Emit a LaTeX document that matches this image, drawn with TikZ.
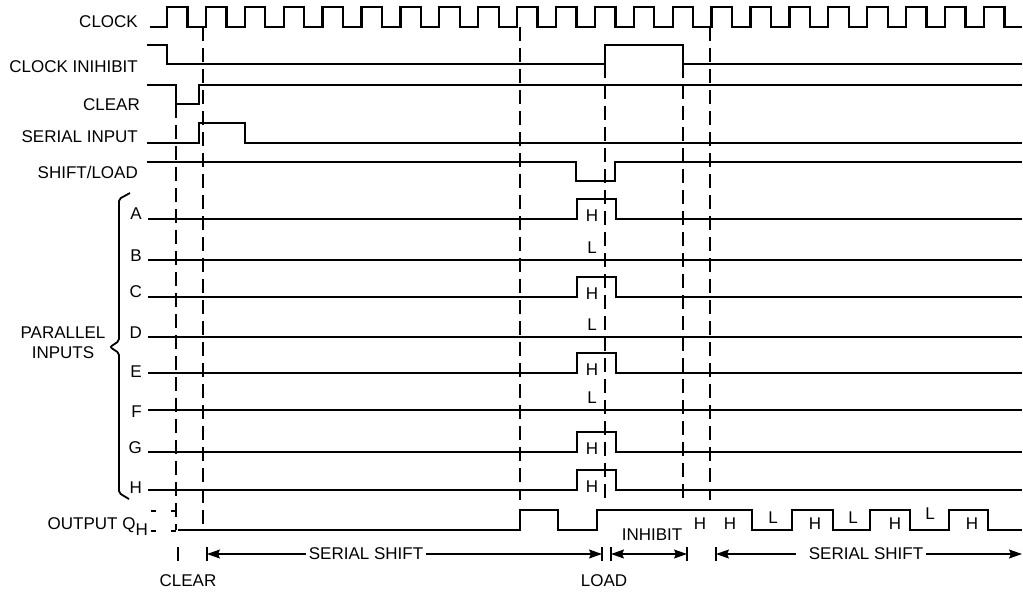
\documentclass[tikz,border=0pt]{standalone}
\usepackage{fontspec}
\setmainfont{Liberation Sans}
\usetikzlibrary{arrows.meta,positioning,calc}
\tikzstyle{signal} = [line width=2.3pt, line join=miter]
\tikzset{span/.style = {
    line width=1.1pt,
    -{Stealth[length=13pt, width=9pt, inset=2pt]},
  },
  twoway/.style = {
    line width=1.1pt,
    {Stealth[length=13pt, width=9pt, inset=2pt]}-{Stealth[length=13pt, width=9pt, inset=2pt]},
  }
}

\begin{document}
\begin{tikzpicture}[x=1pt, y=-1pt, font=\fontsize{17}{20}\selectfont]
  \useasboundingbox (0,0) rectangle (1023,592);
  % styles
  \tikzstyle{signame} = [anchor=base east, inner sep=0pt]
  \tikzstyle{hl} = [anchor=base, inner sep=0pt]
  \tikzstyle{guide} = [line width=1.1pt, dash pattern=on 14pt off 7pt]
  \tikzstyle{tick} = [line width=1.1pt]

  % signal names
  \node[signame] (lclock)   at (138,27)  {CLOCK};
  \node[signame] (linhibit) at (138,72)  {CLOCK INIHIBIT};
  \node[signame] (lclear)   at (140,110) {CLEAR};
  \node[signame] (lserial)  at (138,142) {SERIAL INPUT};
  \node[signame] (lshift)   at (138,178) {SHIFT/LOAD};
  \node[signame] (lout)     at (148,529) {OUTPUT Q\raisebox{-6pt}{H}};
  \node[align=center, inner sep=0pt] (lpar) at (63,343) {PARALLEL\\INPUTS};

  % waveforms
  \draw[signal] (150,27) \foreach \k in {0,...,21} {
      -- ({167+38.9*\k},27) -- ({167+38.9*\k},7) -- ({187.5+38.9*\k},7) -- ({187.5+38.9*\k},27)
    } -- (1022,27);
  \draw[signal] (147,45) -- (167,45) -- (167,64) -- (605,64) -- (605,45) -- (683,45) -- (683,64) -- (1022,64);
  \draw[signal] (147,85) -- (176,85) -- (176,104) -- (199,104) -- (199,85) -- (1022,85);
  \draw[signal] (147,143) -- (199,143) -- (199,123) -- (245,123) -- (245,143) -- (1022,143);
  \draw[signal] (147,162) -- (576,162) -- (576,181) -- (615,181) -- (615,162) -- (1022,162);

  \foreach \n/\y/\b/\p in {A/219/219/1, B/260/261/0, C/297/297/1, D/337/338/0,
                           E/373/377/1, F/410/417/0, G/452/453/1, H/490/493/1} {
    \node[signame] (l\n) at (142,\b) {\n};
    \ifnum\p=1
      \draw[signal] (148,\y) -- (577,\y) -- (577,\y-20) -- (616,\y-20) -- (616,\y) -- (1022,\y);
      \node[hl] (v\n) at (592,\y+2) {H};
    \else
      \draw[signal] (148,\y) -- (1022,\y);
      \node[hl] (v\n) at (592,\y-7) {L};
    \fi
  }
  \draw[line width=1.8pt, rounded corners=2pt] (130,193) -- (119,199) -- (119,341) -- (110,347)
    -- (119,353) -- (119,493) -- (129,499);

  \draw[line width=1.1pt, dash pattern=on 5pt off 15pt] (151,511) -- (177,511);
  \draw[line width=1.1pt, dash pattern=on 5pt off 15pt] (151,531) -- (177,531);
  \draw[signal] (178,530) -- (520,530) -- (520,510) -- (558,510) -- (558,530) -- (597,530) -- (597,510)
    -- (752,510) -- (752,530) -- (792,530) -- (792,510) -- (833,510) -- (833,530) -- (870,530)
    -- (870,510) -- (910,510) -- (910,530) -- (949,530) -- (949,510) -- (988,510) -- (988,530) -- (1022,530);
  \node[hl] (q1) at (700,529) {H};
  \node[hl] (q2) at (730,529) {H};
  \node[hl] (q3) at (773,523) {L};
  \node[hl] (q4) at (815,529) {H};
  \node[hl] (q5) at (853,523) {L};
  \node[hl] (q6) at (895,529) {H};
  \node[hl] (q7) at (930,519) {L};
  \node[hl] (q8) at (972,529) {H};

  % time marks
  \draw[guide] (176,104) -- (176,530);
  \draw[guide] (203,27) -- (203,527);
  \draw[guide] (520,27) -- (520,500);
  \draw[guide] (605,64) -- (605,500);
  \draw[guide] (683,64) -- (683,500);
  \draw[guide] (710,27) -- (710,500);

  % phases
  \coordinate (clr) at (178,554);
  \coordinate (ss1) at (207,554);
  \coordinate (ld1) at (602,554);
  \coordinate (ld2) at (611,554);
  \coordinate (ih)  at (687,554);
  \coordinate (ss2) at (716,554);
  \coordinate (fin) at (1022,554);
  \foreach \c in {clr,ss1,ld1,ld2,ih,ss2}
    \draw[tick] ([yshift=7pt]\c) -- ([yshift=-7pt]\c);

  \node[inner sep=3pt] (tss1) at (366,554) {SERIAL SHIFT};
  \node[inner sep=3pt] (tss2) at (866,554) {SERIAL SHIFT};
  \node[hl] (tinh)  at (652,540) {INHIBIT};
  \node[hl] (tclr)  at (188,586) {CLEAR};
  \node[hl] (tload) at (604,586) {LOAD};

  \draw[span] (tss1.west) -- (ss1);
  \draw[span] (tss1.east) -- (ld1);
  \draw[twoway] (ld2) -- (ih);
  \draw[span] ([xshift=-10pt]tss2.west) -- (ss2);
  \draw[span] (tss2.east) -- (fin);
\end{tikzpicture}
\end{document}
